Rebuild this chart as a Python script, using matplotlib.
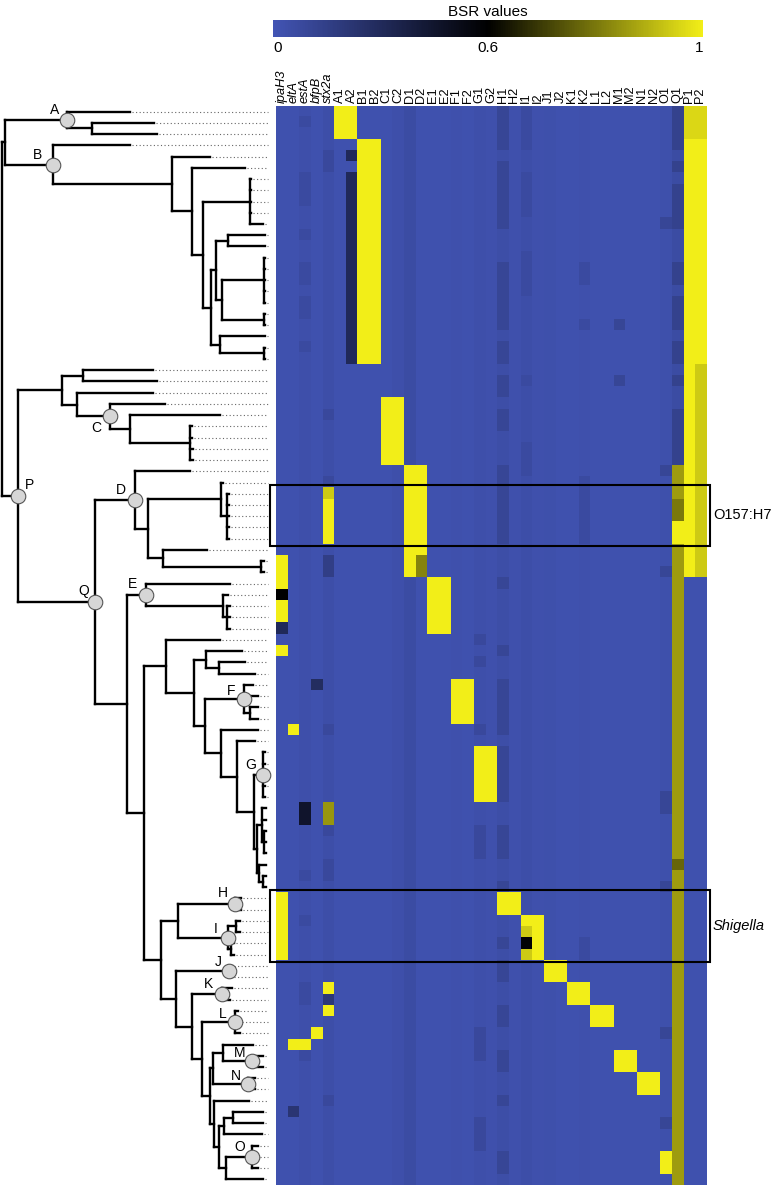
import matplotlib
matplotlib.use('Agg')
import matplotlib.pyplot as plt
import numpy as np
from matplotlib.colors import LinearSegmentedColormap, TwoSlopeNorm
from matplotlib.patches import Rectangle
from matplotlib.collections import LineCollection
from matplotlib.cm import ScalarMappable

plt.rcParams['font.family'] = ['Liberation Sans', 'DejaVu Sans']

# ---------------- data ----------------
COLUMNS = ['ipaH3', 'eltA', 'estA', 'bfpB', 'stx2a',
           'A1', 'A2', 'B1', 'B2', 'C1', 'C2', 'D1', 'D2', 'E1', 'E2', 'F1', 'F2',
           'G1', 'G2', 'H1', 'H2', 'I1', 'I2', 'J1', 'J2', 'K1', 'K2', 'L1', 'L2',
           'M1', 'M2', 'N1', 'N2', 'O1', 'Q1', 'P1', 'P2']
ITALIC_COLUMNS = ['ipaH3', 'eltA', 'estA', 'bfpB', 'stx2a']
N_ROWS = 96

# background BSR value of each column (low, blue)
COLUMN_BASE = [0.02, 0.02, 0.035, 0.02, 0.04,      # ipaH3 .. stx2a
               0.02, 0.02, 0.02, 0.02,             # A1 A2 B1 B2
               0.02, 0.035, 0.06, 0.02,            # C1 C2 D1 D2
               0.02, 0.02, 0.025, 0.02,            # E1 E2 F1 F2
               0.035, 0.025, 0.045, 0.025,         # G1 G2 H1 H2
               0.04, 0.025, 0.03, 0.02,            # I1 I2 J1 J2
               0.02, 0.025, 0.02, 0.02,            # K1 K2 L1 L2
               0.02, 0.02, 0.02, 0.02,             # M1 M2 N1 N2
               0.03, 0.06, 0.02, 0.02]             # O1 Q1 P1 P2

# (first row, last row, first column, last column, BSR value)
BLOCKS = [
    (0, 2, 'A1', 'A2', 1.0),
    (3, 22, 'B1', 'B2', 1.0),
    (4, 4, 'A2', 'A2', 0.30),
    (6, 22, 'A2', 'A2', 0.30),
    (26, 31, 'C1', 'C2', 1.0),
    (32, 41, 'D1', 'D2', 1.0),
    (40, 41, 'D2', 'D2', 0.82),
    (42, 46, 'E1', 'E2', 1.0),
    (51, 54, 'F1', 'F2', 1.0),
    (57, 61, 'G1', 'G2', 1.0),
    (70, 71, 'H1', 'H2', 1.0),
    (72, 75, 'I1', 'I2', 1.0),
    (73, 73, 'I1', 'I1', 0.94),
    (74, 74, 'I1', 'I1', 0.58),
    (75, 75, 'I1', 'I1', 0.94),
    (76, 77, 'J1', 'J2', 1.0),
    (78, 79, 'K1', 'K2', 1.0),
    (80, 81, 'L1', 'L2', 1.0),
    (84, 85, 'M1', 'M2', 1.0),
    (86, 87, 'N1', 'N2', 1.0),
    (93, 94, 'O1', 'O1', 1.0),
    (0, 41, 'P1', 'P2', 1.0),
    (0, 2, 'P1', 'P2', 0.96),
    (23, 41, 'P2', 'P2', 0.94),
    (32, 95, 'Q1', 'Q1', 0.86),
    (35, 36, 'Q1', 'Q1', 0.80),
    (37, 38, 'Q1', 'Q1', 1.0),
    (67, 67, 'Q1', 'Q1', 0.77),
    (40, 42, 'ipaH3', 'ipaH3', 1.0),
    (43, 43, 'ipaH3', 'ipaH3', 0.60),
    (44, 45, 'ipaH3', 'ipaH3', 1.0),
    (46, 46, 'ipaH3', 'ipaH3', 0.30),
    (48, 48, 'ipaH3', 'ipaH3', 1.0),
    (70, 75, 'ipaH3', 'ipaH3', 1.0),
    (55, 55, 'eltA', 'eltA', 1.0),
    (83, 83, 'eltA', 'estA', 1.0),
    (89, 89, 'eltA', 'eltA', 0.22),
    (62, 63, 'estA', 'estA', 0.45),
    (51, 51, 'bfpB', 'bfpB', 0.28),
    (82, 82, 'bfpB', 'bfpB', 1.0),
    (34, 34, 'stx2a', 'stx2a', 0.94),
    (35, 38, 'stx2a', 'stx2a', 1.0),
    (40, 41, 'stx2a', 'stx2a', 0.15),
    (62, 63, 'stx2a', 'stx2a', 0.85),
    (78, 78, 'stx2a', 'stx2a', 1.0),
    (79, 79, 'stx2a', 'stx2a', 0.20),
    (80, 80, 'stx2a', 'stx2a', 1.0),
]

# slightly darker background cells: (first row, last row, column, value)
PATCHES = [
    (0, 3, 'H1', 0.10), (5, 10, 'H1', 0.10), (14, 19, 'H1', 0.10), (21, 22, 'H1', 0.10),
    (24, 25, 'H1', 0.10), (27, 28, 'H1', 0.10), (32, 38, 'H1', 0.10), (42, 42, 'H1', 0.10),
    (48, 48, 'H1', 0.10), (51, 55, 'H1', 0.10), (57, 61, 'H1', 0.10), (64, 66, 'H1', 0.10),
    (69, 69, 'H1', 0.10), (74, 74, 'H1', 0.10), (76, 77, 'H1', 0.10), (80, 81, 'H1', 0.10),
    (84, 85, 'H1', 0.10), (88, 88, 'H1', 0.10), (93, 94, 'H1', 0.10),
    (0, 3, 'Q1', 0.13), (5, 5, 'Q1', 0.13), (7, 10, 'Q1', 0.13), (14, 15, 'Q1', 0.13),
    (17, 19, 'Q1', 0.13), (21, 22, 'Q1', 0.13), (24, 24, 'Q1', 0.13), (27, 31, 'Q1', 0.13),
    (47, 47, 'G1', 0.08), (49, 49, 'G1', 0.08), (55, 55, 'G1', 0.08), (64, 66, 'G1', 0.08),
    (82, 84, 'G1', 0.08), (90, 92, 'G1', 0.08),
    (0, 3, 'I1', 0.07), (6, 9, 'I1', 0.07), (13, 16, 'I1', 0.07), (24, 24, 'I1', 0.07),
    (30, 32, 'I1', 0.07),
    (1, 1, 'estA', 0.07), (6, 8, 'estA', 0.07), (11, 11, 'estA', 0.07), (14, 15, 'estA', 0.07),
    (17, 18, 'estA', 0.07), (21, 21, 'estA', 0.07), (68, 68, 'estA', 0.07), (72, 72, 'estA', 0.07),
    (78, 79, 'estA', 0.07), (84, 84, 'estA', 0.07),
    (4, 5, 'stx2a', 0.08), (27, 27, 'stx2a', 0.08), (33, 33, 'stx2a', 0.08), (55, 55, 'stx2a', 0.08),
    (64, 64, 'stx2a', 0.08), (67, 68, 'stx2a', 0.08), (88, 88, 'stx2a', 0.08),
    (14, 15, 'K2', 0.07), (19, 19, 'K2', 0.07), (33, 38, 'K2', 0.07), (74, 75, 'K2', 0.07),
    (19, 19, 'M1', 0.10), (24, 24, 'M1', 0.10),
    (10, 10, 'O1', 0.10), (32, 32, 'O1', 0.10), (41, 41, 'O1', 0.10), (61, 62, 'O1', 0.10),
    (69, 69, 'O1', 0.10), (82, 82, 'O1', 0.10), (90, 90, 'O1', 0.10),
]

# Phylogeny in Newick form; the number after ':' is the node depth (x position of the node).
CLADE_A = "(:130,(:154,:157):92)A:67"
CLADE_B = ("(:130,(:210,(:245,((:251,:251,:251,:251,:263):250,"
           "(((:265,:265):228,((:265,:265,:265,:265,:265):264,(:265,:265):264):222):216,"
           "(:265,(:265,:265):264):220):211):203):192):172)B:53")
CLADE_C_GROUP = "((:153,:157):83,(:153,(:165,(:220,(:192,:192,:193,:193):190):130)C:110):77):62"
CLADE_D = "(:190,((:223,(:229,:229,:229,:229,:229):227):221,(:207,(:264,:264):261):163):148)D:135"
CLADE_E = "(:230,(:228,(:230,:230,:230):227):223)E:146"
CLADE_F = "(:253,:258,(:258,:258):250)F:244"
CLADE_G = "(:265,:265,:265,:265,:265)G:263"
GROUP_AFTER_G = "((:266,:266,(:266,:266,:266):264):262,(:266,(:266,:266):263):259):257"
GROUP_FG = ("(:220,((:242,(:245,:255):219):206,(" + CLADE_F + ",(:258,(:255,(" + CLADE_G + ","
            + GROUP_AFTER_G + "):254):237):221):205):194):166")
CLADE_HI = "((:241,:241)H:235,((:240,:240):236,(:234,:234):231)I:228):178"
GROUP_MN = "((:253,(:263,:263)M:252):223,(:255,:255)N:248):213"
GROUP_O = "(:249,(((:263,:263):233,:262):224,((:258,:258,:258)O:252,:263):226):219):214"
GROUP_JO = ("((:232,:232)J:229,((:232,:230)K:222,((:238,:240,:240)L:235,("
            + GROUP_MN + "," + GROUP_O + "):210):202):192):176")
CLADE_Q = ("(" + CLADE_D + ",(" + CLADE_E + ",(" + GROUP_FG + ",(" + CLADE_HI + ","
           + GROUP_JO + "):161):144):127)Q:95")
TREE = "((" + CLADE_A + "," + CLADE_B + "):5,(" + CLADE_C_GROUP + "," + CLADE_Q + ")P:18):2"

BOXES = [('O157:H7', 34, 38, 'normal'), ('Shigella', 70, 75, 'italic')]

# ---------------- build matrix ----------------
col_idx = {c: i for i, c in enumerate(COLUMNS)}
mat = np.tile(np.array(COLUMN_BASE, dtype=float), (N_ROWS, 1))
for r0, r1, c, v in PATCHES:
    mat[r0:r1 + 1, col_idx[c]] = v
for r0, r1, c0, c1, v in BLOCKS:
    mat[r0:r1 + 1, col_idx[c0]:col_idx[c1] + 1] = v


# ---------------- parse tree ----------------
def parse_newick(s):
    s = s.replace(' ', '')
    pos = 0

    def node():
        nonlocal pos
        children = []
        if s[pos] == '(':
            pos += 1
            while True:
                children.append(node())
                if s[pos] == ',':
                    pos += 1
                    continue
                if s[pos] == ')':
                    pos += 1
                    break
        name = ''
        while s[pos] not in ':,()':
            name += s[pos]
            pos += 1
        pos += 1  # ':'
        num = ''
        while pos < len(s) and s[pos] not in ',()':
            num += s[pos]
            pos += 1
        return {'name': name, 'x': float(num), 'children': children}

    return node()


root = parse_newick(TREE)
leaf_counter = [0]


def layout(n):
    if not n['children']:
        n['y'] = leaf_counter[0] + 0.5
        leaf_counter[0] += 1
    else:
        for c in n['children']:
            layout(c)
        n['y'] = 0.5 * (n['children'][0]['y'] + n['children'][-1]['y'])


layout(root)

segs, dots, named = [], [], []
DOT_END = 268


def collect(n):
    if n['children']:
        ys = [c['y'] for c in n['children']]
        segs.append([(n['x'], min(ys)), (n['x'], max(ys))])
        for c in n['children']:
            segs.append([(n['x'], c['y']), (c['x'], c['y'])])
            collect(c)
        if n['name']:
            named.append(n)
    else:
        if n['x'] < DOT_END - 2:
            dots.append([(n['x'] + 2, n['y']), (DOT_END, n['y'])])


collect(root)

# ---------------- figure ----------------
W, H = 771, 1189
fig = plt.figure(figsize=(W / 100, H / 100), dpi=100)
hm_left, hm_right, hm_top, hm_bottom = 276, 706, 106, 1185

cmap = LinearSegmentedColormap.from_list('bsr', [(0.0, '#4254B4'), (0.5, '#000000'), (1.0, '#F2EE18')])
norm = TwoSlopeNorm(vmin=0, vcenter=0.6, vmax=1)

ax_h = fig.add_axes([hm_left / W, 1 - hm_bottom / H, (hm_right - hm_left) / W, (hm_bottom - hm_top) / H])
ax_h.imshow(mat, cmap=cmap, norm=norm, aspect='auto', interpolation='nearest')
ax_h.xaxis.tick_top()
ax_h.set_xticks(range(len(COLUMNS)))
ax_h.set_xticklabels(COLUMNS, rotation=90, fontsize=9.2)
for lab in ax_h.get_xticklabels():
    if lab.get_text() in ITALIC_COLUMNS:
        lab.set_fontstyle('italic')
ax_h.tick_params(axis='x', length=0, pad=2)
ax_h.set_yticks([])
for sp in ax_h.spines.values():
    sp.set_visible(False)

col_w = (hm_right - hm_left) / len(COLUMNS)
row_h = (hm_bottom - hm_top) / N_ROWS
bx0 = -0.5 - 6 / col_w
bx1 = len(COLUMNS) - 0.5 + 4 / col_w
for label, r0, r1, style in BOXES:
    y0 = r0 - 0.5 - 3 / row_h
    y1 = r1 + 0.5 + 1.5 / row_h
    ax_h.add_patch(Rectangle((bx0, y0), bx1 - bx0, y1 - y0, fill=False, ec='black', lw=1.5,
                             clip_on=False, zorder=5))
    ax_h.text(bx1 + 3 / col_w, 0.5 * (y0 + y1), label, ha='left', va='center', fontsize=10.5,
              fontstyle=style, clip_on=False)

# tree
ax_t = fig.add_axes([0, 1 - hm_bottom / H, hm_left / W, (hm_bottom - hm_top) / H])
ax_t.set_xlim(0, hm_left)
ax_t.set_ylim(N_ROWS, 0)
ax_t.axis('off')
ax_t.add_collection(LineCollection(dots, colors='#666666', linewidths=0.8, linestyles=(0, (1, 2.2))))
ax_t.add_collection(LineCollection(segs, colors='black', linewidths=1.7, capstyle='projecting'))

LABEL_OFFSETS = {'A': (-9, 7), 'B': (-11, 7), 'C': (-10, -8), 'D': (-10, 7), 'E': (-10, 8),
                 'F': (-9, 6), 'G': (-9, 7), 'H': (-9, 8), 'I': (-9, 6), 'J': (-8, 7),
                 'K': (-10, 7), 'L': (-9, 6), 'M': (-9, 6), 'N': (-9, 6), 'O': (-9, 7),
                 'P': (8, 8), 'Q': (-8, 8)}
for n in named:
    ax_t.scatter([n['x']], [n['y']], s=110, c='#D6D6D6', edgecolors='#555555', linewidths=0.8,
                 zorder=5, clip_on=False)
    dx, dy = LABEL_OFFSETS.get(n['name'], (-9, 7))
    ax_t.annotate(n['name'], (n['x'], n['y']), xytext=(dx, dy), textcoords='offset points',
                  ha='center', va='center', fontsize=10, zorder=6)

# colorbar
cax = fig.add_axes([273 / W, 1 - 37 / H, 430 / W, 17 / H])
cb = fig.colorbar(ScalarMappable(norm=norm, cmap=cmap), cax=cax, orientation='horizontal',
                  ticks=[0, 0.6, 1])
cb.set_ticklabels(['0', '0.6', '1'])
cb.outline.set_visible(False)
cax.tick_params(length=0, pad=3, labelsize=11)
labs = cax.get_xticklabels()
labs[0].set_ha('left')
labs[-1].set_ha('right')
cax.set_title('BSR values', fontsize=11, pad=3)

fig.savefig('out.png', dpi=100)
